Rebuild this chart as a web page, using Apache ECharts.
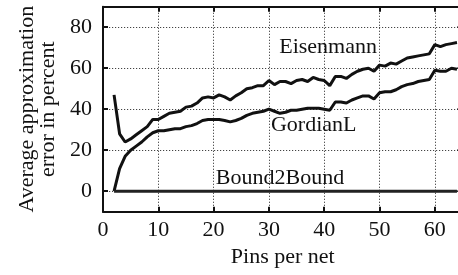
<!DOCTYPE html>
<html>
<head>
<meta charset="utf-8">
<script src="https://cdn.jsdelivr.net/npm/echarts@6/dist/echarts.min.js"></script>
<style>html,body{margin:0;padding:0;background:#fff}#c{width:458px;height:275px}</style>
</head>
<body>
<div id="c"></div>
<script>
// ---- data ----
const pins = [2,3,4,5,6,7,8,9,10,11,12,13,14,15,16,17,18,19,20,21,22,23,24,25,26,27,28,29,30,31,32,33,34,35,36,37,38,39,40,41,42,43,44,45,46,47,48,49,50,51,52,53,54,55,56,57,58,59,60,61,62,63,64];
const eisenmann = [47,28,24,25.5,27.5,29.5,31.5,35,35,36.5,38,38.5,39,41,41.5,43,45.5,46,45.5,47,46,44.5,46.5,48,50,50.5,51.5,51.5,54,52,53.5,53.5,52.5,54,54.5,53.5,55.5,54.5,54,51.5,56,56,55,57,58.5,59.5,60,58.5,61.5,61,62.5,62,63.5,65,65.5,66,66.5,67,71.5,70.5,71.5,72,72.5];
const gordianL = [0,11,17,20,22,24,26.5,28.5,29.5,29.5,30,30.5,30.5,31.5,32,33,34.5,35,35,35,34.5,33.8,34.5,35.5,37,38,38.5,39,40,39,38,38.5,39.5,39.5,40,40.5,40.5,40.5,40,39.5,43.5,43.5,43,44.5,45.5,46.5,46.5,45,48,48.5,48.5,49.5,51,52,52.5,53.5,54,54.5,59,58.5,58.5,60,59.5];
const bound2Bound = [0,0,0,0,0,0,0,0,0,0,0,0,0,0,0,0,0,0,0,0,0,0,0,0,0,0,0,0,0,0,0,0,0,0,0,0,0,0,0,0,0,0,0,0,0,0,0,0,0,0,0,0,0,0,0,0,0,0,0,0,0,0,0];
const xTicks = [0,10,20,30,40,50,60];
const yTicks = [0,20,40,60,80];
const labelNames = ['Eisenmann','GordianL','Bound2Bound'];
const labelX = [40.7,38.1,32];
const labelY = [70,32.3,6.2];
const xTitle = 'Pins per net';
const yTitle = 'Average approximation\nerror in percent';

// ---- chart ----
const FONT = '"Liberation Serif", "Times New Roman", serif';
const INK = '#111';
const pairs = v => pins.map((p, i) => [p, v[i]]);
const dotted = {show: true, lineStyle: {color: '#444', width: 1, type: [1.2, 1.8]}};
const chart = echarts.init(document.getElementById('c'), null, {renderer: 'canvas'});
chart.setOption({
  animation: false,
  backgroundColor: '#fff',
  grid: {left: 103, right: -4.5, top: 6.7, bottom: 63.3, outerBoundsMode: 'none', containLabel: false},
  xAxis: [{
    type: 'value', position: 'bottom', min: 0, max: 65,
    name: xTitle, nameLocation: 'middle', nameGap: 31,
    nameTextStyle: {fontFamily: FONT, fontSize: 22, color: INK},
    axisLine: {show: true, onZero: false, lineStyle: {color: INK, width: 2}},
    axisTick: {show: true, inside: true, length: 5, customValues: xTicks.slice(1), lineStyle: {color: INK, width: 2}},
    axisLabel: {show: true, customValues: xTicks, margin: 8, fontFamily: FONT, fontSize: 22, color: INK},
    splitLine: dotted
  }, {
    type: 'value', position: 'top', min: 0, max: 65,
    axisLine: {show: true, onZero: false, lineStyle: {color: INK, width: 2}},
    axisTick: {show: true, inside: true, length: 5, customValues: xTicks.slice(1), lineStyle: {color: INK, width: 2}},
    axisLabel: {show: false}, splitLine: {show: false}
  }],
  yAxis: [{
    type: 'value', position: 'left', min: -10, max: 90,
    name: yTitle, nameLocation: 'middle', nameGap: 44, nameRotate: 90,
    nameTextStyle: {fontFamily: FONT, fontSize: 22, color: INK, lineHeight: 21, align: 'center'},
    axisLine: {show: true, onZero: false, lineStyle: {color: INK, width: 2}},
    axisTick: {show: true, inside: true, length: 5, customValues: yTicks, lineStyle: {color: INK, width: 2}},
    axisLabel: {show: true, customValues: yTicks, margin: 11, fontFamily: FONT, fontSize: 22, color: INK},
    splitLine: dotted
  }, {
    type: 'value', position: 'right', min: -10, max: 90,
    axisLine: {show: true, onZero: false, lineStyle: {color: INK, width: 2}},
    axisTick: {show: true, inside: true, length: 5, customValues: yTicks, lineStyle: {color: INK, width: 2}},
    axisLabel: {show: false}, splitLine: {show: false}
  }],
  series: [
    {name: 'Eisenmann', type: 'line', data: pairs(eisenmann), showSymbol: false, symbol: 'none',
     lineStyle: {color: INK, width: 3}, z: 5},
    {name: 'GordianL', type: 'line', data: pairs(gordianL), showSymbol: false, symbol: 'none',
     lineStyle: {color: INK, width: 3}, z: 5},
    {name: 'Bound2Bound', type: 'line', data: pairs(bound2Bound), showSymbol: false, symbol: 'none',
     lineStyle: {color: '#222', width: 3}, z: 5}
  ]
});
// series name labels placed at data coordinates
chart.setOption({
  graphic: labelNames.map((n, i) => {
    const p = chart.convertToPixel({xAxisIndex: 0, yAxisIndex: 0}, [labelX[i], labelY[i]]);
    return {type: 'text', x: p[0], y: p[1], z: 100, silent: true,
            style: {text: n, fill: INK, font: '22px ' + FONT, align: 'center', verticalAlign: 'middle'}};
  })
});
</script>
</body>
</html>
